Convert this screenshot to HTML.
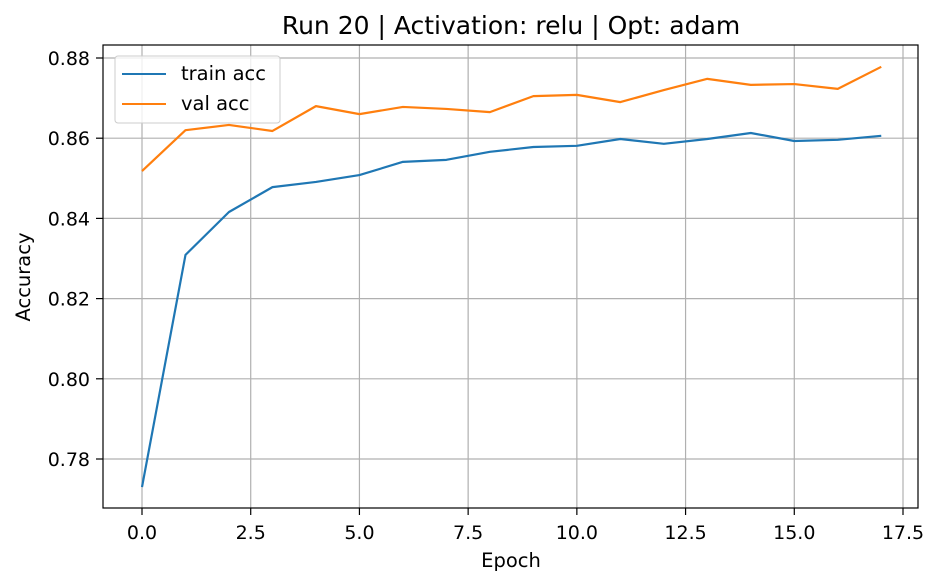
<!DOCTYPE html>
<html><head><meta charset="utf-8"><style>
html,body{margin:0;padding:0;background:#fff;}
svg{display:block;font-family:"DejaVu Sans","Liberation Sans",sans-serif;}
</style></head><body>
<svg id="chart" width="940" height="586" viewBox="0 0 940 586" xmlns="http://www.w3.org/2000/svg">
<rect width="940" height="586" fill="#fff"/>
<text x="511" y="34" font-size="25" text-anchor="middle">Run 20 | Activation: relu | Opt: adam</text>
<g id="grid"></g><g id="ticks"></g><g id="lines"></g>
<rect x="103" y="45" width="815" height="463" fill="none" stroke="#000" stroke-width="1.2"/>
<text x="511" y="567" font-size="19.5" text-anchor="middle">Epoch</text>
<text x="30" y="277" font-size="19.5" text-anchor="middle" transform="rotate(-90 30 277)">Accuracy</text>
<g>
<rect x="115" y="56" width="165" height="67" rx="3" fill="#fff" fill-opacity="0.8" stroke="#ccc"/>
<line x1="122" y1="74" x2="166" y2="74" stroke="#1f77b4" stroke-width="2"/>
<text x="181" y="80" font-size="19.5">train acc</text>
<line x1="122" y1="104" x2="166" y2="104" stroke="#ff7f0e" stroke-width="2"/>
<text x="181" y="110" font-size="19.5">val acc</text>
</g>
</svg>
<script>
const epochs=[0,1,2,3,4,5,6,7,8,9,10,11,12,13,14,15,16,17];
const trainAcc=[0.773,0.8309,0.8416,0.8478,0.8491,0.8508,0.8541,0.8546,0.8566,0.8578,0.8581,0.8598,0.8586,0.8598,0.8613,0.8593,0.8596,0.8606];
const valAcc=[0.8518,0.8620,0.8633,0.8618,0.8680,0.8660,0.8678,0.8673,0.8665,0.8705,0.8708,0.8690,0.8720,0.8748,0.8733,0.8735,0.8723,0.8778];
const xTicks=[0,2.5,5,7.5,10,12.5,15,17.5];
const xTickLabels=["0.0","2.5","5.0","7.5","10.0","12.5","15.0","17.5"];
const yTicks=[0.78,0.80,0.82,0.84,0.86,0.88];
const yTickLabels=["0.78","0.80","0.82","0.84","0.86","0.88"];
const NS="http://www.w3.org/2000/svg";
const xs=v=>142+v*(903-142)/17.5;
const ys=v=>459-(v-0.78)*(459-58)/0.10;
function mk(tag,attrs,parent){const e=document.createElementNS(NS,tag);for(const k in attrs)e.setAttribute(k,attrs[k]);parent.appendChild(e);return e;}
const grid=document.getElementById('grid'),ticks=document.getElementById('ticks'),lines=document.getElementById('lines');
xTicks.forEach((t,i)=>{const x=xs(t);
 const g=mk('line',{x1:x,y1:45,x2:x,y2:508,stroke:'#b0b0b0','stroke-width':1.2},grid);
 
 
 mk('line',{x1:x,y1:508,x2:x,y2:515,stroke:'#000','stroke-width':1.2},ticks);
 const tx=mk('text',{x:x,y:539,'font-size':19,'text-anchor':'middle'},ticks);tx.textContent=xTickLabels[i];
 
 
});
yTicks.forEach((t,i)=>{const y=ys(t);
 const g=mk('line',{x1:103,y1:y,x2:918,y2:y,stroke:'#b0b0b0','stroke-width':1.2},grid);
 
 
 mk('line',{x1:96,y1:y,x2:103,y2:y,stroke:'#000','stroke-width':1.2},ticks);
 const tx=mk('text',{x:90,y:y+7,'font-size':19,'text-anchor':'end'},ticks);tx.textContent=yTickLabels[i];
 
 
});
function series(data,color,name){
 const p=mk('polyline',{points:data.map((v,i)=>xs(epochs[i])+','+ys(v)).join(' '),fill:'none',stroke:color,'stroke-width':2.2,'stroke-linejoin':'round'},lines);
 
 
}
series(trainAcc,'#1f77b4','train-acc-line');
series(valAcc,'#ff7f0e','val-acc-line');
</script>
</body></html>
